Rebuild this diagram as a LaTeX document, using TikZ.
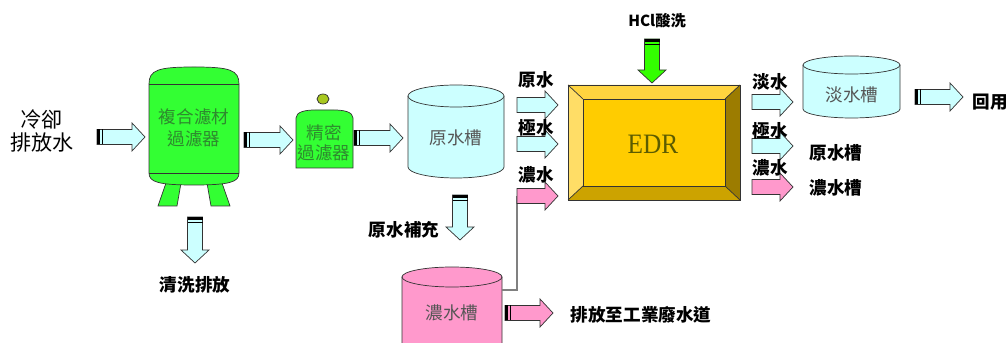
\documentclass[tikz,border=0pt]{standalone}
\usepackage{fontspec}
\setmainfont{Noto Sans CJK TC}
\newfontfamily\serifedr{Liberation Serif}
\usepackage{tikz}
\usetikzlibrary{positioning,calc}

\definecolor{waterblue}{HTML}{CCFFFF}
\definecolor{filtergreen}{HTML}{33FF33}
\definecolor{acidgreen}{HTML}{33FF00}
\definecolor{brinepink}{HTML}{FF99CC}
\definecolor{knobolive}{HTML}{A8C820}
\definecolor{edrface}{HTML}{FFCC00}
\definecolor{edrtop}{HTML}{FFD43F}
\definecolor{edrleft}{HTML}{FFDD66}
\definecolor{edrright}{HTML}{9C7C00}
\definecolor{edrbottom}{HTML}{CCA300}
\definecolor{edrtext}{HTML}{5C5C00}
\definecolor{tanktext}{HTML}{555555}
\definecolor{greentext}{HTML}{2E8A2E}

\tikzset{
  lbl/.style={font=\fontsize{15}{18}\selectfont\bfseries},
  tanklbl/.style={font=\fontsize{15}{19}\selectfont, text=tanktext, align=center},
  outline/.style={draw=black!80, line width=0.6pt},
  % block arrow with a striped tail
  pics/flowarrow/.style 2 args={code={
    \draw[outline, fill=#2] (0,-7.5) -- (#1-13,-7.5) -- (#1-13,-14) -- (#1,0)
      -- (#1-13,14) -- (#1-13,7.5) -- (0,7.5) -- cycle;
    \fill[black] (0,-7.5) rectangle (3,7.5);
    \fill[black] (4.6,-7.5) rectangle (5.8,7.5);
  }},
  % plain block arrow
  pics/feedarrow/.style 2 args={code={
    \draw[outline, fill=#2] (0,-7.5) -- (#1-13,-7.5) -- (#1-13,-14) -- (#1,0)
      -- (#1-13,14) -- (#1-13,7.5) -- (0,7.5) -- cycle;
  }}
}

\begin{document}
\begin{tikzpicture}[x=0.03cm, y=0.03cm]
  \useasboundingbox (0,0) rectangle (1008,343);

  % inlet
  \node[font=\fontsize{18}{19}\selectfont, align=center] (inlet) at (42,212) {冷卻\\排放水};
  \pic at (97,206) {flowarrow={48}{waterblue}};

  % media filter
  \draw[outline, fill=filtergreen] (166,160) -- (158,137) -- (177,137) -- (181,160) -- cycle;
  \draw[outline, fill=filtergreen] (222,160) -- (230,137) -- (211,137) -- (207,160) -- cycle;
  \draw[outline, fill=filtergreen] (149,170) -- (149,259)
    .. controls (149,273) and (158,276) .. (194,276)
    .. controls (230,276) and (239,273) .. (239,259) -- (239,170)
    .. controls (239,161) and (230,158) .. (194,158)
    .. controls (158,158) and (149,161) .. (149,170) -- cycle;
  \draw[outline] (149,259) -- (239,259);
  \draw[outline] (149,170) -- (239,170);
  \node[font=\fontsize{15}{19}\selectfont, text=greentext, align=center] (mediaflt) at (194,215) {複合濾材\\過濾器};

  % backwash outlet
  \pic[rotate=-90] at (195,126) {flowarrow={46}{waterblue}};
  \node[lbl] (backwash) at (195,58) {清洗排放};

  \pic at (244,203) {flowarrow={49}{waterblue}};

  % cartridge filter
  \draw[outline, fill=knobolive] (323,244) ellipse[x radius=6, y radius=5];
  \draw[outline, fill=filtergreen] (296,175) -- (296,225)
    .. controls (296,231) and (305,233) .. (315,233) -- (334,233)
    .. controls (344,233) and (353,231) .. (353,225) -- (353,175) -- cycle;
  \node[font=\fontsize{15}{17}\selectfont, text=greentext, align=center] (fineflt) at (324,200) {精密\\過濾器};

  \pic at (354,205) {flowarrow={49}{waterblue}};

  % raw water tank
  \draw[outline, fill=waterblue] (408,247) -- (408,176) arc[start angle=180, end angle=360, x radius=48, y radius=11]
    -- (504,247);
  \draw[outline, fill=waterblue] (456,247) ellipse[x radius=48, y radius=11];
  \node[tanklbl] (rawtank) at (456,205) {原水槽};

  \pic[rotate=-90] at (460,148) {flowarrow={45}{waterblue}};
  \node[lbl] (makeup) at (404,113) {原水補充};

  % brine tank
  \begin{scope}
    \clip (0,0) rectangle (1008,343);
    \draw[outline, fill=brinepink] (402,66) -- (402,-8) arc[start angle=180, end angle=360, x radius=50, y radius=10]
      -- (502,66);
    \draw[outline, fill=brinepink] (452,66) ellipse[x radius=50, y radius=10];
  \end{scope}
  \node[tanklbl] (brinetank) at (452,30) {濃水槽};
  \pic at (505,30) {flowarrow={48}{brinepink}};
  \node[lbl] (drain) at (641,28) {排放至工業廢水道};

  % brine recycle line
  \coordinate (brineout) at (502,53);
  \coordinate (brinein) at (517,147);
  \draw[black!50, line width=1pt] (brineout) -| (brinein);

  % EDR feeds
  \pic at (517,238) {feedarrow={41}{waterblue}};
  \pic at (517,199) {feedarrow={41}{waterblue}};
  \pic at (517,147) {feedarrow={41}{brinepink}};
  \node[lbl] (feedraw) at (536,263) {原水};
  \node[lbl] (feedelec) at (536,215) {極水};
  \node[lbl] (feedbrine) at (536,168) {濃水};

  % EDR stack
  \fill[edrtop] (568,258) -- (740,258) -- (725,244) -- (583,244) -- cycle;
  \fill[edrleft] (568,258) -- (583,244) -- (583,157) -- (568,143) -- cycle;
  \fill[edrright] (740,258) -- (725,244) -- (725,157) -- (740,143) -- cycle;
  \fill[edrbottom] (568,143) -- (583,157) -- (725,157) -- (740,143) -- cycle;
  \draw[outline, fill=edrface] (583,157) rectangle (725,244);
  \draw[outline] (568,143) rectangle (740,258);
  \draw[outline] (568,258) -- (583,244) (740,258) -- (725,244)
    (568,143) -- (583,157) (740,143) -- (725,157);
  \node[font=\serifedr\fontsize{24}{24}\selectfont, text=edrtext, xscale=0.9] (edr) at (653,199) {EDR};

  % acid cleaning
  \pic[rotate=-90] at (652,304) {flowarrow={44}{acidgreen}};
  \node[font=\fontsize{13}{15}\selectfont\bfseries] (acid) at (657,322) {HCl酸洗};

  % EDR products
  \pic at (752,241) {feedarrow={41}{waterblue}};
  \pic at (752,197) {feedarrow={41}{waterblue}};
  \pic at (752,156) {feedarrow={41}{brinepink}};
  \node[lbl] (outfresh) at (770,261) {淡水};
  \node[lbl] (outelec) at (770,212) {極水};
  \node[lbl] (outbrine) at (770,175) {濃水};
  \node[lbl] (torawtank) at (836,190) {原水槽};
  \node[lbl] (tobrinetank) at (836,155) {濃水槽};

  % product tank
  \draw[outline, fill=waterblue] (803,278) -- (803,234) arc[start angle=180, end angle=360, x radius=48.5, y radius=9]
    -- (900,278);
  \draw[outline, fill=waterblue] (851.5,278) ellipse[x radius=48.5, y radius=9];
  \node[tanklbl] (freshtank) at (852,248) {淡水槽};

  \pic at (915,246) {flowarrow={48}{waterblue}};
  \node[lbl] (reuse) at (990,241) {回用};
\end{tikzpicture}
\end{document}
